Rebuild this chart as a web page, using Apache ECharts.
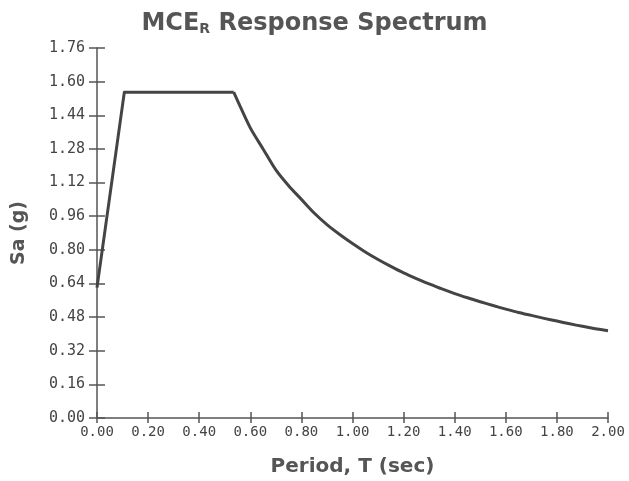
<!DOCTYPE html>
<html><head><meta charset="utf-8">
<script src="https://cdn.jsdelivr.net/npm/echarts@6/dist/echarts.min.js"></script>
<style>html,body{margin:0;padding:0;background:#fff}#c{width:629px;height:481px}</style>
</head><body><div id="c"></div>
<script>
const periods = [0.00, 0.107, 0.535, 0.55, 0.60, 0.65, 0.70, 0.75, 0.80, 0.85, 0.90, 0.95, 1.00, 1.05, 1.10, 1.15, 1.20, 1.25, 1.30, 1.35, 1.40, 1.45, 1.50, 1.55, 1.60, 1.65, 1.70, 1.75, 1.80, 1.85, 1.90, 1.95, 2.00];
const sa      = [0.62, 1.55, 1.55, 1.51, 1.38, 1.28, 1.18, 1.105, 1.04, 0.975, 0.92, 0.873, 0.83, 0.79, 0.754, 0.721, 0.69, 0.663, 0.638, 0.614, 0.592, 0.572, 0.553, 0.535, 0.518, 0.502, 0.488, 0.474, 0.461, 0.448, 0.436, 0.425, 0.415];
const titleText = 'MCE{sub|R} Response Spectrum';
const xName = 'Period, T (sec)';
const yName = 'Sa (g)';

const data = periods.map((t, i) => [t, sa[i]]);
const rampData = data.slice(0, 3);
const decayData = data.slice(2);
const axisCol = '#555';
const chart = echarts.init(document.getElementById('c'));
chart.setOption({
  backgroundColor: '#fff',
  animation: false,
  title: {
    text: titleText, left: 'center', top: 7,
    textStyle: {fontFamily: 'DejaVu Sans', fontWeight: 'bold', fontSize: 24, color: '#555',
      rich: {sub: {fontFamily: 'DejaVu Sans', fontWeight: 'bold', fontSize: 14, color: '#555', verticalAlign: 'bottom', padding: [10, 0, 0, 0]}}}
  },
  grid: {left: 97, right: 21, top: 48, bottom: 63, outerBoundsMode: 'none', containLabel: false},
  xAxis: [{
    type: 'value', min: 0, max: 2, interval: 0.2,
    name: xName, nameLocation: 'middle', nameGap: 39,
    nameTextStyle: {fontFamily: 'DejaVu Sans', fontWeight: 'bold', fontSize: 20, color: '#555'},
    axisLine: {show: true, lineStyle: {color: axisCol, width: 1.5}},
    axisTick: {show: true, length: 5, lineStyle: {color: axisCol, width: 1.5}},
    axisLabel: {formatter: v => v.toFixed(2), margin: 7, color: '#444', fontFamily: 'DejaVu Sans Mono', fontSize: 14},
    splitLine: {show: false}
  }, {
    type: 'value', min: 0, max: 2, interval: 0.2, position: 'bottom',
    axisLine: {show: false},
    axisTick: {show: true, inside: true, length: 6, lineStyle: {color: axisCol, width: 1.5}},
    axisLabel: {show: false}, splitLine: {show: false}
  }],
  yAxis: [{
    type: 'value', min: 0, max: 1.76, interval: 0.16,
    name: yName, nameLocation: 'middle', nameGap: 68, nameRotate: 90,
    nameTextStyle: {fontFamily: 'DejaVu Sans', fontWeight: 'bold', fontSize: 19, color: '#555'},
    axisLine: {show: true, lineStyle: {color: axisCol, width: 1.5}},
    axisTick: {show: true, length: 8, lineStyle: {color: axisCol, width: 1.5}},
    axisLabel: {formatter: v => v.toFixed(2), margin: 12, color: '#444', fontFamily: 'DejaVu Sans Mono', fontSize: 15},
    splitLine: {show: false}
  }, {
    type: 'value', min: 0, max: 1.76, interval: 0.16, position: 'left',
    axisLine: {show: false},
    axisTick: {show: true, inside: true, length: 8, lineStyle: {color: axisCol, width: 1.5}},
    axisLabel: {show: false}, splitLine: {show: false}
  }],
  series: [{
    type: 'line', data: rampData, symbol: 'none',
    lineStyle: {color: '#444', width: 3, join: 'round'}
  }, {
    type: 'line', data: decayData, symbol: 'none', smooth: 0.3,
    lineStyle: {color: '#444', width: 3, join: 'round'}
  }]
});
</script></body></html>
